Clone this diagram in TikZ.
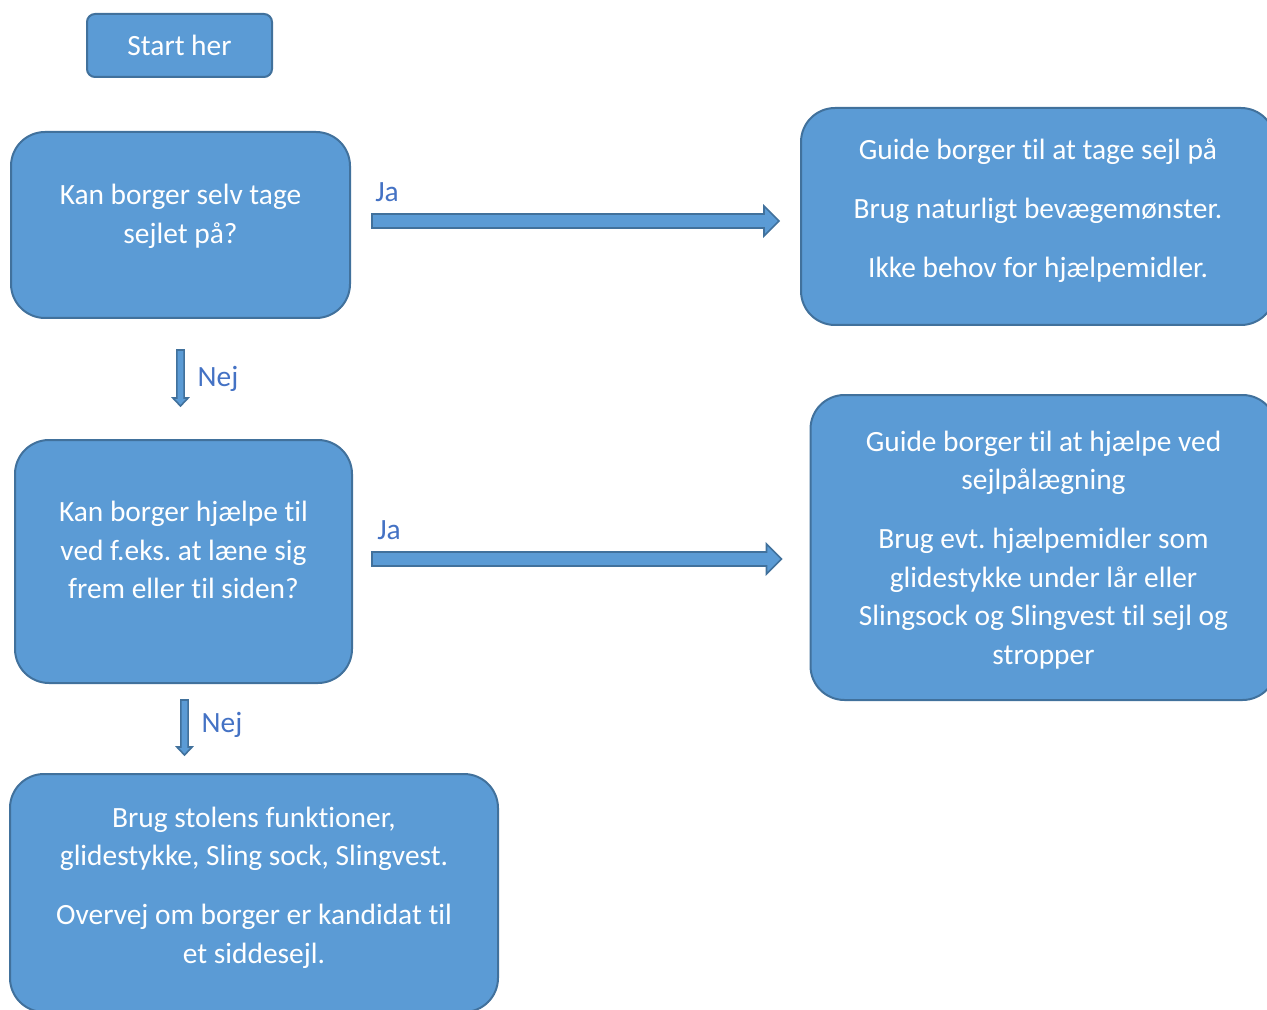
\documentclass[tikz,border=0pt]{standalone}
\usepackage{fontspec}
\setmainfont[Ligatures=NoCommon]{Carlito}
\usetikzlibrary{calc}
\frenchspacing
\definecolor{boxfill}{HTML}{5B9BD5}
\definecolor{boxline}{HTML}{41719C}
\definecolor{labeltext}{HTML}{4472C4}
\tikzset{
  flowbox/.style={draw=boxline,fill=boxfill,line width=1pt,rounded corners=17pt,
    text=white,align=center,inner sep=0pt,
    font=\fontsize{14.7}{19.25}\selectfont},
  startbox/.style={flowbox,rounded corners=4pt},
  armlabel/.style={text=labeltext,font=\fontsize{14.7}{17}\selectfont},
  jaarrow/.style={draw=boxline,fill=boxfill,line width=0.8pt,
    to path={let \p1=(\tikztostart),\p2=(\tikztotarget) in
      (\x1,\y1+3.5pt) -- (\x2-7.5pt,\y1+3.5pt) -- (\x2-7.5pt,\y1+7.5pt) -- (\x2,\y1)
      -- (\x2-7.5pt,\y1-7.5pt) -- (\x2-7.5pt,\y1-3.5pt) -- (\x1,\y1-3.5pt) -- cycle}},
  nejarrow/.style={draw=boxline,fill=boxfill,line width=0.8pt,
    to path={let \p1=(\tikztostart),\p2=(\tikztotarget) in
      (\x1-1.8pt,\y1) -- (\x1-1.8pt,\y2+4pt) -- (\x1-3.8pt,\y2+4pt) -- (\x1,\y2)
      -- (\x1+3.8pt,\y2+4pt) -- (\x1+1.8pt,\y2+4pt) -- (\x1+1.8pt,\y1) -- cycle}}
}
\begin{document}
\begin{tikzpicture}[x=0.5pt,y=-0.5pt]
  \clip (0,0) rectangle (1267,1010);
  % boxes
  \node[startbox,minimum width=92.5pt,minimum height=31.5pt] (start) at (179.5,45.5) {Start her};
  \node[flowbox,minimum width=169.5pt,minimum height=93pt,text depth=11.3pt]
    (q1) at (180.5,225) {Kan borger selv tage\\sejlet på?};
  \node[flowbox,minimum width=237pt,minimum height=108.5pt,text depth=8.3pt]
    (g1) at (1038,216.5) {Guide borger til at tage sejl på\\[10.25pt]
      Brug naturligt bevægemønster.\\[10.25pt]Ikke behov for hjælpemidler.};
  \node[flowbox,minimum width=233pt,minimum height=152.5pt,text depth=0pt]
    (g2) at (1043.5,547.5) {Guide borger til at hjælpe ved\\sejlpålægning\\[10.25pt]
      Brug evt. hjælpemidler som\\glidestykke under lår eller\\
      Slingsock og Slingvest til sejl og\\stropper};
  \node[flowbox,minimum width=168.5pt,minimum height=121.5pt,text depth=11.3pt]
    (q2) at (183.5,561.5) {Kan borger hjælpe til\\ved f.eks. at læne sig\\frem eller til siden?};
  \node[flowbox,minimum width=244pt,minimum height=119pt,text depth=7.8pt]
    (g3) at (254,893) {Brug stolens funktioner,\\glidestykke, Sling sock, Slingvest.\\[10.25pt]
      Overvej om borger er kandidat til\\et siddesejl.};
  % arrows
  \draw[jaarrow] ([xshift=10.5pt,yshift=2pt]q1.east) to ([xshift=-10.5pt]g1.west);
  \draw[jaarrow] ([xshift=9.5pt,yshift=1.25pt]q2.east) to ([xshift=-14pt]g2.west);
  \draw[nejarrow] ([yshift=-15.5pt]q1.south) to ([yshift=16.5pt]q2.north);
  \draw[nejarrow] ([xshift=0.5pt,yshift=-8pt]q2.south) to ([yshift=9pt]g3.north);
  % labels
  \node[armlabel] (ja1) at (387,192) {Ja};
  \node[armlabel] (ja2) at (389,530) {Ja};
  \node[armlabel] (nej1) at (218,379) {Nej};
  \node[armlabel] (nej2) at (222,725) {Nej};
\end{tikzpicture}
\end{document}
